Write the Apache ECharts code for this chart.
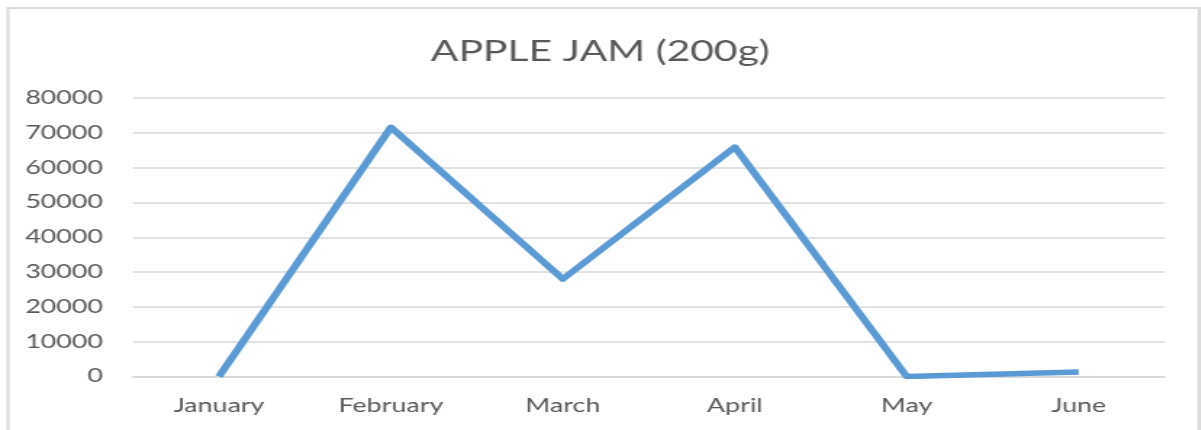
<!DOCTYPE html>
<html>
<head>
<meta charset="utf-8">
<script src="https://cdn.jsdelivr.net/npm/echarts@6/dist/echarts.min.js"></script>
<style>
  html, body { margin: 0; padding: 0; background: #fff; overflow: hidden; }
  #frame { width: 1201px; height: 430px; overflow: hidden; }
  /* the chart is laid out narrower and widened to the frame, giving the stretched lettering */
  #chart { height: 430px; transform-origin: left top; }
</style>
</head>
<body>
<div id="frame"><div id="chart"></div></div>
<script>
// Monthly sales, apple jam 200g jars
const months = ['January', 'February', 'March', 'April', 'May', 'June'];
const sales = [0, 71600, 28000, 65900, 0, 1300];
const yTicks = { min: 0, max: 80000, step: 10000 };

const stretch = 1.45;
const frameW = 1201;
const W = frameW / stretch;
const el = document.getElementById('chart');
el.style.width = W + 'px';
el.style.transform = 'scaleX(' + stretch + ')';

const textColor = '#595959';
const gridColor = '#d9d9d9';
const fontFamily = 'Lato, "Open Sans", sans-serif';

const chart = echarts.init(el);
chart.setOption({
  animation: false,
  backgroundColor: '#ffffff',
  title: {
    text: 'APPLE JAM (200g)',
    left: 'center',
    top: 33,
    textStyle: { color: textColor, fontSize: 28.2, fontWeight: 'normal', fontFamily: fontFamily }
  },
  graphic: [{
    type: 'rect',
    shape: { x: 8 / stretch, y: 8, width: 1191 / stretch, height: 440 },
    style: { fill: 'none', stroke: gridColor, lineWidth: 2 },
    silent: true
  }],
  grid: { left: 133 / stretch, right: 36 / stretch, top: 98, bottom: 53.5, containLabel: false },
  xAxis: {
    type: 'category',
    data: months,
    boundaryGap: true,
    axisLine: { show: true, lineStyle: { color: gridColor, width: 1.5 } },
    axisTick: { show: false },
    axisLabel: { color: textColor, fontSize: 18.5, fontFamily: fontFamily, margin: 20 }
  },
  yAxis: {
    type: 'value',
    min: yTicks.min,
    max: yTicks.max,
    interval: yTicks.step,
    axisLine: { show: false },
    axisTick: { show: false },
    splitLine: { lineStyle: { color: gridColor, width: 1.5 } },
    axisLabel: {
      color: textColor, fontSize: 18.5, fontFamily: fontFamily, margin: 30 / stretch,
      formatter: function (v) { return String(v); }
    }
  },
  series: [{
    type: 'line',
    data: sales,
    showSymbol: false,
    symbol: 'none',
    lineStyle: { color: '#5b9bd5', width: 5.5, join: 'round' },
    itemStyle: { color: '#5b9bd5' }
  }]
});
</script>
</body>
</html>
